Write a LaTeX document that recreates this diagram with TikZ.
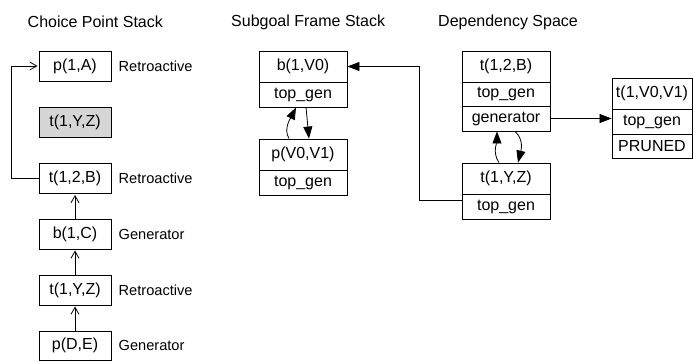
\documentclass[tikz,border=0pt]{standalone}
\usepackage{fontspec}
\setmainfont{Liberation Sans}
\usetikzlibrary{arrows.meta}
\begin{document}
\begin{tikzpicture}[x=1bp,y=-1bp,
  cell/.style={draw, line width=0.9bp, inner sep=0pt, font=\fontsize{16bp}{18bp}\selectfont},
  cw/.style={minimum width=72bp, minimum height=30bp},
  sw/.style={minimum width=88bp},
  lab/.style={inner sep=0pt, anchor=west, font=\fontsize{14.6bp}{16bp}\selectfont},
  ttl/.style={inner sep=0pt, anchor=west, font=\fontsize{16bp}{18bp}\selectfont},
  openarr/.style={-{Straight Barb[length=7bp,width=8bp]}, line width=0.8bp, shorten >=1bp},
  fillarr/.style={-{Triangle[length=12bp,width=9bp]}, line width=0.8bp}]
\useasboundingbox (0,0) rectangle (694,361);
% titles
\node[ttl] (t1) at (27.5,22) {Choice Point Stack};
\node[ttl] (t2t) at (231,22) {Subgoal Frame Stack};
\node[ttl] (t3) at (438,22) {Dependency Space};
% choice point stack
\node[cell,cw] (cA) at (75,66) {p(1,A)};
\node[cell,cw,fill=black!16] (cT) at (75,122.5) {t(1,Y,Z)};
\node[cell,cw] (cB) at (75,178.5) {t(1,2,B)};
\node[cell,cw] (cC) at (75,234) {b(1,C)};
\node[cell,cw] (cY) at (75,290) {t(1,Y,Z)};
\node[cell,cw,minimum height=29bp] (cD) at (75,345.5) {p(D,E)};
\node[lab] (lA) at (118.5,66) {Retroactive};
\node[lab] (lB) at (118.5,178.5) {Retroactive};
\node[lab] (lC) at (118.5,234) {Generator};
\node[lab] (lY) at (118.5,290) {Retroactive};
\node[lab] (lD) at (118.5,345.5) {Generator};
\draw[openarr] (cD.north) -- (cY.south);
\draw[openarr] (cY.north) -- (cC.south);
\draw[openarr] (cC.north) -- (cB.south);
\coordinate (lft) at (11,178.5);
\draw[openarr] (cB.west) -- (lft) |- (cA.west);
% subgoal frame stack
\node[cell,sw,minimum height=31bp] (b1) at (303,66.5) {b(1,V0)};
\node[cell,sw,minimum height=25bp] (b1g) at (303,94.5) {top\_gen};
\node[cell,sw,minimum height=31bp] (pV) at (303,154.5) {p(V0,V1)};
\node[cell,sw,minimum height=25bp] (pVg) at (303,182.5) {top\_gen};
\draw[fillarr] ([xshift=-14bp]pV.north) .. controls +(-6,-10) and +(-5,10) .. ([xshift=-7bp]b1g.south);
\draw[fillarr] ([xshift=3bp]b1g.south) .. controls +(1,10) and +(-1,-10) .. ([xshift=6bp]pV.north);
% dependency space
\node[cell,sw,minimum height=31bp] (d2) at (506,66.5) {t(1,2,B)};
\node[cell,sw,minimum height=24bp] (d2g) at (506,94) {top\_gen};
\node[cell,sw,minimum height=25bp] (d2e) at (506,118.5) {generator};
\node[cell,sw,minimum height=31bp] (dY) at (506,178.5) {t(1,Y,Z)};
\node[cell,sw,minimum height=25bp] (dYg) at (506,206.5) {top\_gen};
\node[cell,minimum width=80bp,minimum height=31bp] (dV) at (652,93.5) {t(1,V0,V1)};
\node[cell,minimum width=80bp,minimum height=25bp] (dVg) at (652,121.5) {top\_gen};
\node[cell,minimum width=80bp,minimum height=24bp] (dVp) at (652,146) {PRUNED};
\draw[fillarr] ([xshift=-7bp]dY.north) .. controls +(-7,-10) and +(0,10) .. ([xshift=-9bp]d2e.south);
\draw[fillarr] ([xshift=9bp]d2e.south) .. controls +(9,8) and +(3,-12) .. ([xshift=12bp]dY.north);
\draw[fillarr] (d2e.east) -- (d2e.east -| dVg.west);
\coordinate (jn) at (419,66.5);
\draw[fillarr] ([yshift=6bp]dYg.west) -| (jn) -- (b1.east);
\end{tikzpicture}
\end{document}
